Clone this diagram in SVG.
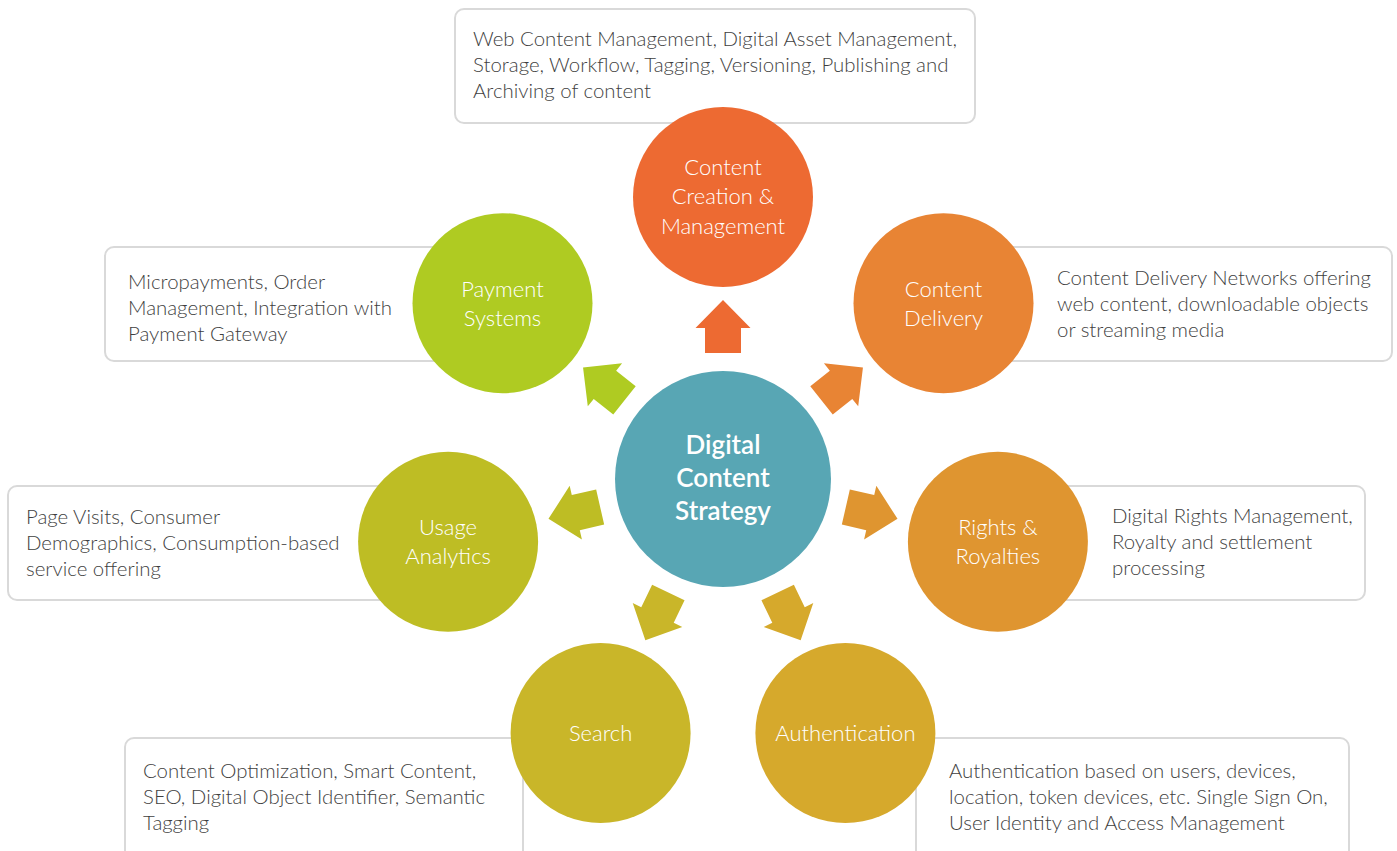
<svg xmlns="http://www.w3.org/2000/svg" width="1397" height="851" viewBox="0 0 1397 851">
<defs>
<style>
.box{fill:#ffffff;stroke:#d9d9d9;stroke-width:2}
.bt{font-family:Lato,"Open Sans","Liberation Sans",sans-serif;font-size:20.4px;font-weight:300;fill:#3f3f3f}
.ct{font-family:Lato,"Open Sans","Liberation Sans",sans-serif;font-size:22px;font-weight:300;fill:#ffffff;text-anchor:middle}
.mt{font-family:Lato,"Open Sans","Liberation Sans",sans-serif;font-size:26px;font-weight:600;fill:#ffffff;text-anchor:middle}
</style>
<polygon id="arr" points="-18,-126 -18,-151 -27.5,-151 0,-179 27.5,-151 18,-151 18,-126"/>
</defs>
<rect width="1397" height="851" fill="#ffffff"/>

<g id="connectors">
<use href="#arr" transform="translate(723 479) rotate(0)" fill="#ed6a32"/>
<use href="#arr" transform="translate(723 479) rotate(51.43)" fill="#e88434"/>
<use href="#arr" transform="translate(723 479) rotate(102.86)" fill="#df9530"/>
<use href="#arr" transform="translate(723 479) rotate(154.29)" fill="#d6a92c"/>
<use href="#arr" transform="translate(723 479) rotate(205.71)" fill="#c9b629"/>
<use href="#arr" transform="translate(723 479) rotate(257.14)" fill="#bebd24"/>
<use href="#arr" transform="translate(723 479) rotate(308.57)" fill="#afcb22"/>
</g>

<g id="box-creation">
<rect class="box" x="455" y="9" width="520" height="114" rx="9"/>
<text class="bt" x="473" y="46">Web Content Management, Digital Asset Management,</text>
<text class="bt" x="473" y="72">Storage, Workflow, Tagging, Versioning, Publishing and</text>
<text class="bt" x="473" y="98">Archiving of content</text>
</g>
<g id="box-payment">
<rect class="box" x="105" y="247" width="420" height="114" rx="9"/>
<text class="bt" x="128" y="289">Micropayments, Order</text>
<text class="bt" x="128" y="315">Management, Integration with</text>
<text class="bt" x="128" y="341">Payment Gateway</text>
</g>
<g id="box-delivery">
<rect class="box" x="940" y="247" width="452" height="114" rx="9"/>
<text class="bt" x="1057" y="285">Content Delivery Networks offering</text>
<text class="bt" x="1057" y="311">web content, downloadable objects</text>
<text class="bt" x="1057" y="337">or streaming media</text>
</g>
<g id="box-usage">
<rect class="box" x="8" y="486" width="440" height="114" rx="9"/>
<text class="bt" x="26" y="524">Page Visits, Consumer</text>
<text class="bt" x="26" y="550">Demographics, Consumption-based</text>
<text class="bt" x="26" y="576">service offering</text>
</g>
<g id="box-rights">
<rect class="box" x="1000" y="486" width="365" height="114" rx="9"/>
<text class="bt" x="1112" y="523">Digital Rights Management,</text>
<text class="bt" x="1112" y="549">Royalty and settlement</text>
<text class="bt" x="1112" y="575">processing</text>
</g>
<g id="box-search">
<rect class="box" x="125" y="738" width="398" height="125" rx="9"/>
<text class="bt" x="143" y="778">Content Optimization, Smart Content,</text>
<text class="bt" x="143" y="804">SEO, Digital Object Identifier, Semantic</text>
<text class="bt" x="143" y="830">Tagging</text>
</g>
<g id="box-auth">
<rect class="box" x="916" y="738" width="433" height="125" rx="9"/>
<text class="bt" x="949" y="778">Authentication based on users, devices,</text>
<text class="bt" x="949" y="804">location, token devices, etc. Single Sign On,</text>
<text class="bt" x="949" y="830">User Identity and Access Management</text>
</g>

<g id="node-center">
<circle cx="723" cy="479" r="108" fill="#58a6b4"/>
<text class="mt" x="723" y="454">Digital</text>
<text class="mt" x="723" y="487">Content</text>
<text class="mt" x="723" y="520">Strategy</text>
</g>
<g id="node-creation">
<circle cx="723" cy="197" r="90" fill="#ed6a32"/>
<text class="ct" x="723" y="175">Content</text>
<text class="ct" x="723" y="204">Creation &amp;</text>
<text class="ct" x="723" y="234">Management</text>
</g>
<g id="node-delivery">
<circle cx="943.5" cy="303.2" r="90" fill="#e88434"/>
<text class="ct" x="943.5" y="297">Content</text>
<text class="ct" x="943.5" y="326">Delivery</text>
</g>
<g id="node-rights">
<circle cx="997.9" cy="541.8" r="90" fill="#df9530"/>
<text class="ct" x="997.9" y="535">Rights &amp;</text>
<text class="ct" x="997.9" y="564">Royalties</text>
</g>
<g id="node-auth">
<circle cx="845.4" cy="733.1" r="90" fill="#d6a92c"/>
<text class="ct" x="845.4" y="741">Authentication</text>
</g>
<g id="node-search">
<circle cx="600.6" cy="733.1" r="90" fill="#c9b629"/>
<text class="ct" x="600.6" y="741">Search</text>
</g>
<g id="node-usage">
<circle cx="448.1" cy="541.8" r="90" fill="#bebd24"/>
<text class="ct" x="448.1" y="535">Usage</text>
<text class="ct" x="448.1" y="564">Analytics</text>
</g>
<g id="node-payment">
<circle cx="502.5" cy="303.2" r="90" fill="#afcb22"/>
<text class="ct" x="502.5" y="297">Payment</text>
<text class="ct" x="502.5" y="326">Systems</text>
</g>
</svg>
